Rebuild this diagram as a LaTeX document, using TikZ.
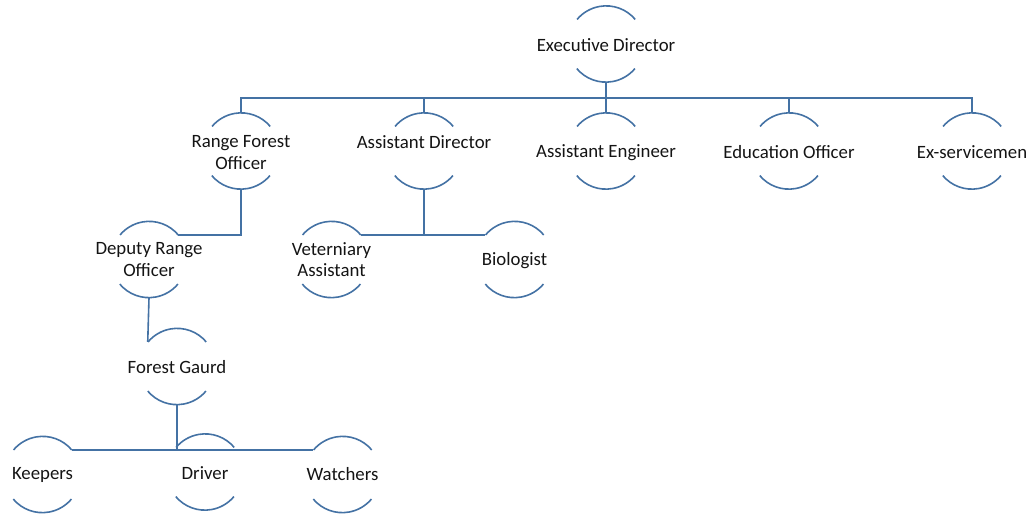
\documentclass[tikz,border=0pt]{standalone}
\usepackage{fontspec}
\setmainfont{Carlito}
\definecolor{linec}{RGB}{68,114,164}
\definecolor{txtc}{RGB}{20,20,20}
\tikzset{
  x=1pt,y=1pt,
  orgc/.style={circle,draw=none,minimum size=76pt,inner sep=0pt},
  lbl/.style={text=txtc,font=\fontsize{18.8}{21.5}\selectfont,align=center,inner sep=0pt,yshift=-1.5pt},
  conn/.style={draw=linec,line width=1.6pt},
}
\newcommand{\orgarcs}[1]{%
  \draw[conn] (#1.40) arc[start angle=40,end angle=140,radius=38pt];
  \draw[conn] (#1.220) arc[start angle=220,end angle=320,radius=38pt];
}
\begin{document}
\begin{tikzpicture}
\useasboundingbox (0,0) rectangle (1034,-515);
% circles
\node[orgc] (ed)  at (606,-44) {};
\node[orgc] (rfo) at (241,-151) {};
\node[orgc] (ad)  at (424,-151) {};
\node[orgc] (ae)  at (606,-151) {};
\node[orgc] (eo)  at (789,-151) {};
\node[orgc] (exs) at (972,-151) {};
\node[orgc] (dro) at (149,-259.5) {};
\node[orgc] (va)  at (331.5,-259.5) {};
\node[orgc] (bio) at (514.5,-259.5) {};
\node[orgc] (fg)  at (177,-366.5) {};
\node[orgc] (kp)  at (42.5,-474.5) {};
\node[orgc] (drv) at (205,-472) {};
\node[orgc] (wt)  at (342.5,-474.5) {};
\foreach \n in {ed,rfo,ad,ae,eo,exs,dro,va,bio,fg,kp,drv,wt}{\orgarcs{\n}}
% labels
\node[lbl] (edT)  at (606,-44) {Executive Director};
\node[lbl] (rfoT) at (241,-151) {Range Forest\\Officer};
\node[lbl] (adT)  at (424,-141) {Assistant Director};
\node[lbl] (aeT)  at (606,-151) {Assistant Engineer};
\node[lbl] (eoT)  at (789,-151) {Education Officer};
\node[lbl] (exsT) at (972,-151) {Ex-servicemen};
\node[lbl] (droT) at (149,-258) {Deputy Range\\Officer};
\node[lbl] (vaT)  at (331.5,-258) {Veterniary\\Assistant};
\node[lbl] (bioT) at (514.5,-259) {Biologist};
\node[lbl] (fgT)  at (177,-366) {Forest Gaurd};
\node[lbl] (kpT)  at (42.5,-473) {Keepers};
\node[lbl] (drvT) at (205,-472) {Driver};
\node[lbl] (wtT)  at (342.5,-473) {Watchers};
% connectors
\coordinate (bus) at (606,-98);
\draw[conn] (rfo.north) |- (bus) -| (exs.north);
\draw[conn] (ad.north) |- (bus);
\draw[conn] (eo.north) |- (bus);
\draw[conn] (ed.south) -- (ae.north);
\draw[conn] (rfo.south) |- (dro.40);
\draw[conn] (dro.south) -- (fg.140);
\draw[conn] (ad.south) -- (ad.south |- va.40);
\draw[conn] (va.40) -- (bio.140);
\draw[conn] (fg.south) -- (fg.south |- kp.40);
\draw[conn] (kp.40) -- (wt.140);
\end{tikzpicture}
\end{document}
